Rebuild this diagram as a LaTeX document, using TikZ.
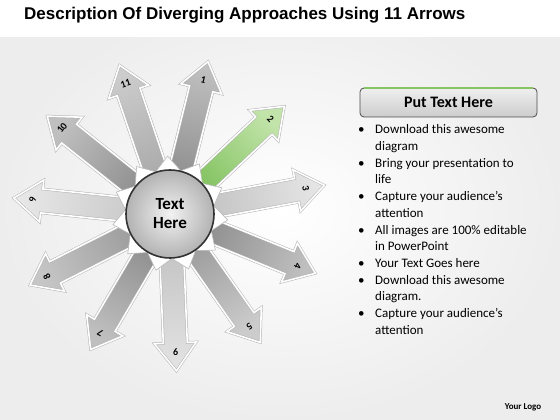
\documentclass[tikz,border=0pt]{standalone}
\usepackage{fontspec}
\setmainfont{Carlito}
\newfontfamily\headfont{Liberation Sans}
\usetikzlibrary{shapes.geometric}
\definecolor{leafgreen}{HTML}{86C464}
\definecolor{palegreen}{HTML}{C2E4AA}
\begin{document}
\begin{tikzpicture}[x=1pt,y=1pt,
rayline/.style={draw=gray!60, double=white, double distance=1.6pt, line width=0.5pt, line join=miter},
num/.style={font=\bfseries\fontsize{10}{10}\selectfont, inner sep=0pt},
pics/ray/.style n args={5}{code={
 \shade[rayline, bottom color=#3, top color=#4, shading angle=#1-90, rotate=#1]
   (40,-12) -- (129,-12) -- (129,-21) -- (157,0) -- (129,21) -- (129,12) -- (40,12) -- cycle;
 \node[num, rotate=#2] (-n) at (#1:138) {#5};
}},
spikes/.style={star, star points=11, star point ratio=1.3, minimum size=116pt, inner sep=0pt,
  fill=white, draw=gray!55, line width=0.6pt},
hub/.style={circle, minimum size=88pt, inner sep=0pt, inner color=gray!10, outer color=gray!60,
  draw=gray!40!black, line width=1.6pt, align=center, font=\bfseries\fontsize{17}{19}\selectfont},
title/.style={font=\headfont\bfseries\fontsize{17}{20}\selectfont, inner sep=0pt},
button/.style={rounded corners=4pt, minimum width=177pt, minimum height=29pt, top color=gray!12,
  bottom color=gray!40, draw=gray!60!black, line width=0.8pt, font=\bfseries\fontsize{16}{18}\selectfont},
list/.style={inner sep=0pt, font=\fontsize{13}{16.7}\selectfont},
logo/.style={font=\bfseries\fontsize{9}{10}\selectfont}]

\useasboundingbox (0,0) rectangle (560,420);
\shade[inner color=white, outer color=gray!14] (0,0) rectangle (560,420);
\fill[white] (0,383) rectangle (560,420);

\node[title, anchor=base west] (title) at (24,400) {Description Of Diverging Approaches Using 11 Arrows};

% arrows round the hub
\coordinate (c) at (170,206);
\pic (r1) at (c) {ray={76}{-14}{gray!85}{gray!50}{1}};
\pic (r2) at (c) {ray={43.27}{-46.73}{leafgreen}{palegreen}{2}};
\pic (r3) at (c) {ray={10.55}{-79.45}{gray!45}{gray!20}{3}};
\pic (r4) at (c) {ray={-22.18}{-112.18}{gray!85}{gray!50}{4}};
\pic (r5) at (c) {ray={-54.91}{-144.91}{gray!75}{gray!40}{5}};
\pic (r6) at (c) {ray={-87.64}{0}{gray!45}{gray!22}{6}};
\pic (r7) at (c) {ray={-120.36}{149.64}{gray!85}{gray!50}{7}};
\pic (r8) at (c) {ray={-153.09}{116.91}{gray!75}{gray!45}{8}};
\pic (r9) at (c) {ray={174.18}{84.18}{gray!40}{gray!18}{9}};
\pic (r10) at (c) {ray={141.45}{51.45}{gray!85}{gray!50}{10}};
\pic (r11) at (c) {ray={108.73}{18.73}{gray!65}{gray!40}{11}};

\node[spikes, shape border rotate=2.36] (crown) at (c) {};
\node[hub] (hub) at (c) {Text\\Here};

% text panel
\node[button] (head) at (448.5,317.5) {Put Text Here};
\draw[leafgreen, line width=1.6pt] ([xshift=4pt,yshift=-0.4pt]head.north west) -- ([xshift=-4pt,yshift=-0.4pt]head.north east);
\node[list, anchor=north west] (list) at (358,298) {%
\begin{tabular}{@{}p{17pt}@{}l@{}}
\textbullet & Download this awesome\\
 & diagram\\
\textbullet & Bring your presentation to\\
 & life\\
\textbullet & Capture your audience’s\\
 & attention\\
\textbullet & All images are 100\% editable\\
 & in PowerPoint\\
\textbullet & Your Text Goes here\\
\textbullet & Download this awesome\\
 & diagram.\\
\textbullet & Capture your audience’s\\
 & attention
\end{tabular}};

\node[logo] (logo) at (523,13) {Your Logo};
\end{tikzpicture}
\end{document}
